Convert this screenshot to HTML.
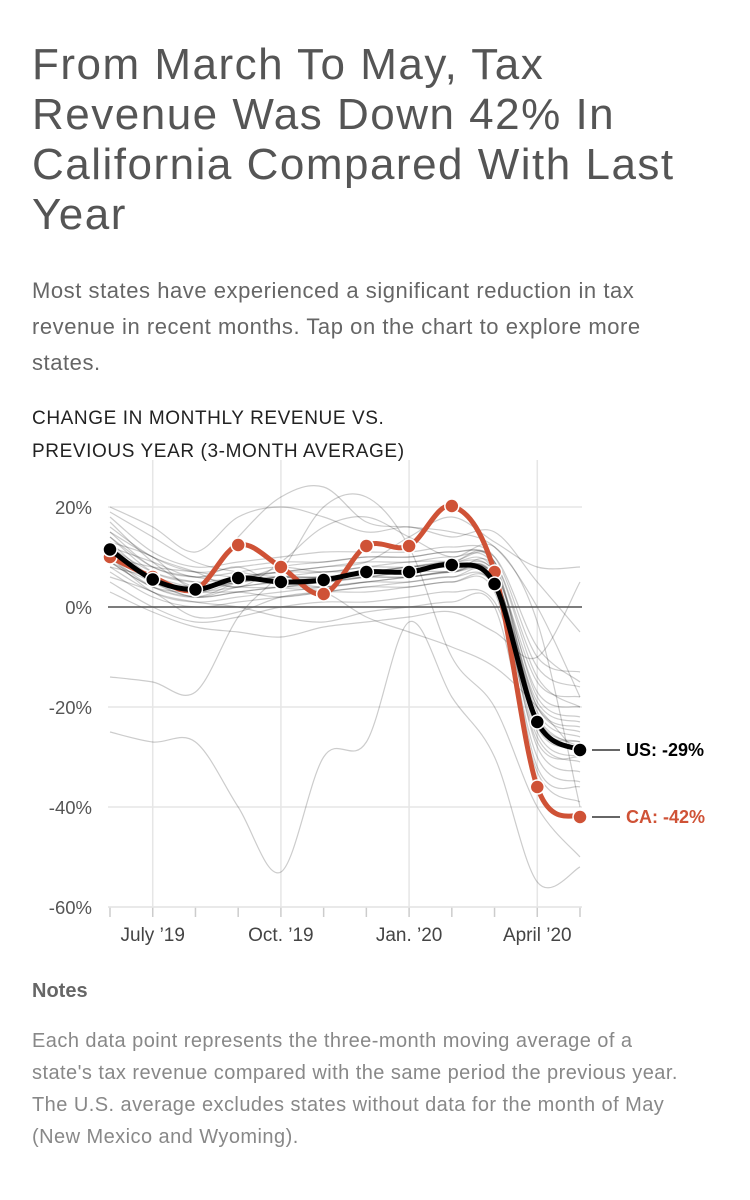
<!DOCTYPE html>
<html><head><meta charset="utf-8"><style>
body{margin:0;width:750px;height:1200px;background:#fff;font-family:"Liberation Sans",sans-serif;overflow:hidden;position:relative}
.t{position:absolute;left:32px;top:40px;width:720px;font-size:44px;line-height:50px;color:#555;letter-spacing:1.5px;white-space:nowrap}
.s{position:absolute;left:32px;top:273px;width:710px;font-size:22px;line-height:36px;color:#666;letter-spacing:0.55px;white-space:nowrap}
.ct{position:absolute;left:32px;top:402px;font-size:19px;line-height:33px;letter-spacing:0.6px;color:#222}
.nh{position:absolute;left:32px;top:980px;font-size:20px;font-weight:bold;color:#666}
.nt{position:absolute;left:32px;top:1025px;width:710px;font-size:20px;line-height:32px;color:#888;letter-spacing:0.45px;white-space:nowrap}
svg{position:absolute;left:0;top:0}
</style></head><body>
<div class="t">From March To May, Tax<br>Revenue Was Down 42% In<br>California Compared With Last<br>Year</div>
<div class="s">Most states have experienced a significant reduction in tax<br>revenue in recent months. Tap on the chart to explore more<br>states.</div>
<div class="ct">CHANGE IN MONTHLY REVENUE VS.<br>PREVIOUS YEAR (3-MONTH AVERAGE)</div>
<svg id="chart" width="750" height="980"></svg>
<div class="nh">Notes</div>
<div class="nt">Each data point represents the three-month moving average of a<br>state's tax revenue compared with the same period the previous year.<br>The U.S. average excludes states without data for the month of May<br>(New Mexico and Wyoming).</div>
<script>
const months=["Jun","Jul","Aug","Sep","Oct","Nov","Dec","Jan","Feb","Mar","Apr","May"];
const yTicks=[20,0,-20,-40,-60];
const yTickLabels=["20%","0%","-20%","-40%","-60%"];
const xTickIdx=[1,4,7,10];
const xTickLabels=["July \u201919","Oct. \u201919","Jan. \u201920","April \u201920"];
const usValues=[11.5,5.5,3.5,5.8,5,5.4,7,7,8.4,4.6,-23,-28.6];
const caValues=[10,6,3.5,12.4,8,2.6,12.2,12.2,20.2,7,-36,-42];
const states=[
[14,7,5,6,7,8,9,9,10,8,-20,-25],[17,9,4,5,6,6,7,8,9,7,-15,-18],[12,5,2,3,4,5,6,6,7,6,-25,-30],
[9,4,3,4,5,4,5,6,7,8,-18,-22],[15,8,6,7,8,7,8,8,9,9,-22,-27],[10,3,1,2,3,4,5,5,6,5,-28,-33],
[8,6,4,5,6,6,7,7,8,6,-20,-24],[16,10,7,8,9,9,10,10,11,9,-12,-16],[11,5,3,3,2,3,4,4,5,3,-30,-35],
[13,6,4,6,7,7,8,9,9,7,-24,-28],[7,2,0,1,2,3,4,5,6,4,-26,-31],[18,11,8,9,10,11,11,11,12,10,-10,-13],
[12,7,5,4,4,5,6,7,7,6,-21,-26],[9,5,2,4,5,6,6,6,7,5,-32,-36],[14,8,6,5,6,7,7,8,8,7,-17,-20],
[10,4,2,5,8,9,10,10,11,9,-14,-20],[6,3,-2,-1,2,3,3,4,5,4,-27,-30],[19,14,9,7,6,6,7,8,9,10,-8,-15],
[5,0,-3,-2,0,1,1,2,3,1,-22,-28],[8,3,1,0,-2,-3,-1,0,1,0,-33,-39],[20,16,11,18,20,18,15,16,14,15,5,-5],
[13,10,4,14,22,24,17,16,15,12,0,-18],[-14,-15,-17,-2,7,20,22,12,-10,-20,-40,-50],
[-25,-27,-27,-40,-53,-30,-27,-3,-18,-30,-55,-52],[3,-1,-4,-5,-6,-4,-3,-2,-1,-5,-10,5],
[12,9,6,8,4,3,-2,-5,-8,-12,-20,-30],[15,10,7,4,9,16,18,14,10,12,-3,-40],[10,8,7,6,7,8,9,14,18,13,8,8],
[11,6,3,5,6,5,6,7,8,6,-19,-23],[9,4,2,3,4,4,5,6,7,5,-23,-27]
];
const svg=document.getElementById('chart');const NS="http://www.w3.org/2000/svg";
const x=i=>110+i*(470/11);const y=v=>607-v*5;
function mk(t,a,p){const e=document.createElementNS(NS,t);for(const k in a)e.setAttribute(k,a[k]);(p||svg).appendChild(e);return e;}
function path(vals){const p=vals.map((v,i)=>[x(i),y(v)]);let d="M"+p[0];for(let i=0;i<p.length-1;i++){const p0=p[i-1]||p[i],p1=p[i],p2=p[i+1],p3=p[i+2]||p2;const c1=[p1[0]+(p2[0]-p0[0])/6,p1[1]+(p2[1]-p0[1])/6],c2=[p2[0]-(p3[0]-p1[0])/6,p2[1]-(p3[1]-p1[1])/6];d+="C"+c1+" "+c2+" "+p2;}return d;}
yTicks.forEach((t,i)=>{const g=mk('line',{x1:108,x2:582,y1:y(t),y2:y(t),stroke:'#e6e6e6','stroke-width':1.5});


const l=mk('text',{x:92,y:y(t)+7,'text-anchor':'end','font-size':18.5,fill:'#555'});l.textContent=yTickLabels[i];

});
xTickIdx.forEach((m,i)=>{const g=mk('line',{x1:x(m),x2:x(m),y1:460,y2:907,stroke:'#e6e6e6','stroke-width':1.5});


const l=mk('text',{x:x(m),y:941,'text-anchor':'middle','font-size':19,fill:'#444'});l.textContent=xTickLabels[i];

});
months.forEach((m,i)=>{const t=mk('line',{x1:x(i),x2:x(i),y1:907,y2:917,stroke:'#ccc','stroke-width':1.5});

});
const ax=mk('line',{x1:108,x2:582,y1:907,y2:907,stroke:'#e6e6e6','stroke-width':1.5});


states.forEach(s=>{const p=mk('path',{d:path(s),fill:'none',stroke:'rgba(0,0,0,0.2)','stroke-width':1.2});

});
const z=mk('line',{x1:108,x2:582,y1:y(0),y2:y(0),stroke:'#555','stroke-width':1.5});


function series(vals,col,name){const p=mk('path',{d:path(vals),fill:'none',stroke:col,'stroke-width':5});


vals.forEach((v,i)=>{const c=mk('circle',{cx:x(i),cy:y(v),r:7,fill:col,stroke:'#fff','stroke-width':1.5});

});}
series(caValues,'#cf5236','ca');
series(usValues,'#000','us');
function lab(v,txt,col,name){const l=mk('line',{x1:592,x2:620,y1:y(v),y2:y(v),stroke:'#333','stroke-width':1.5});


const t=mk('text',{x:626,y:y(v)+6,'font-size':18,'font-weight':'bold',fill:col});t.textContent=txt;

}
lab(usValues[11],'US: '+Math.round(usValues[11])+'%','#000','us');
lab(caValues[11],'CA: '+Math.round(caValues[11])+'%','#cf5236','ca');
</script>
</body></html>
